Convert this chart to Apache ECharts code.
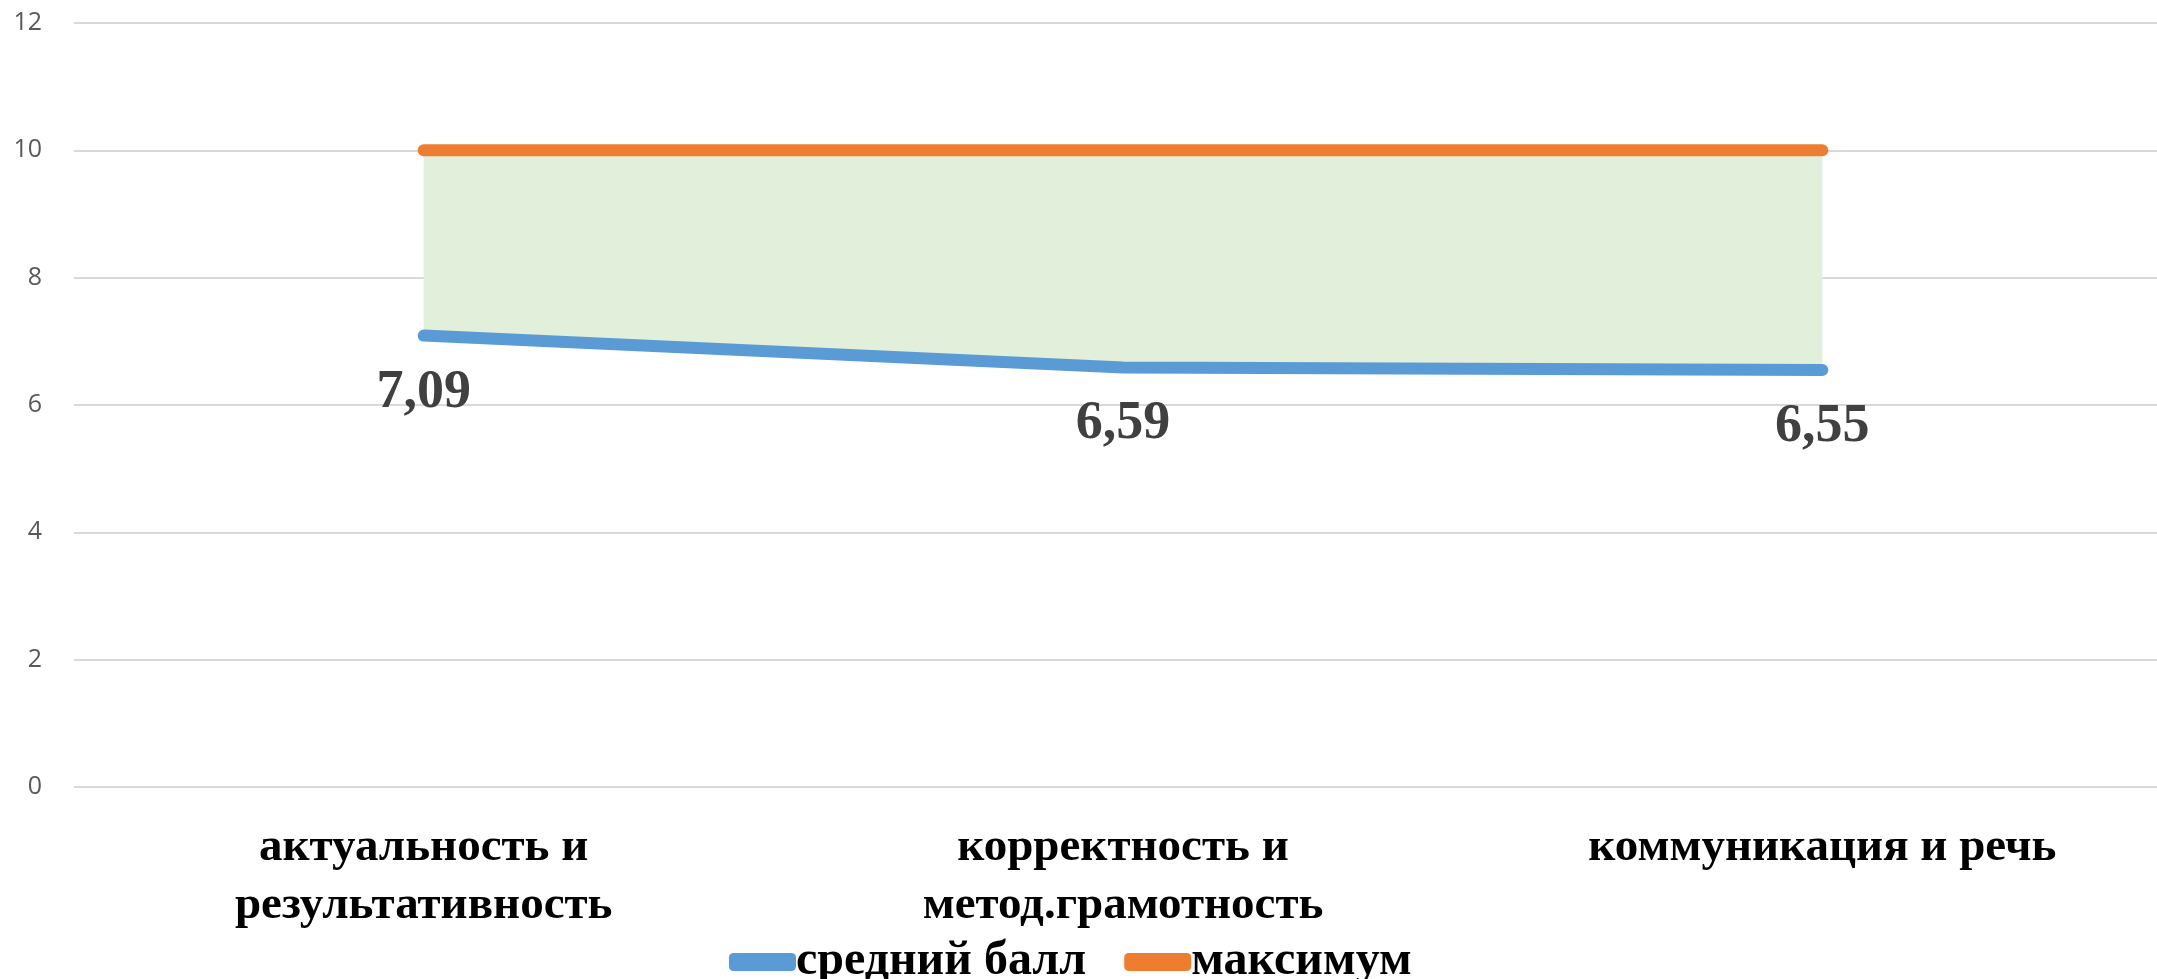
<!DOCTYPE html>
<html>
<head>
<meta charset="utf-8">
<title></title>
<script src="https://cdn.jsdelivr.net/npm/echarts@6/dist/echarts.min.js"></script>
<style>
  html, body { margin: 0; padding: 0; background: #fff; }
  #main { width: 2157px; height: 979px; }
</style>
</head>
<body>
<div id="main"></div>
<script type="text/javascript">
// категории и значения
var categories = ['актуальность и\nрезультативность', 'корректность и\nметод.грамотность', 'коммуникация и речь'];
var avgScores = [7.09, 6.59, 6.55];
var maxScores = [10, 10, 10];
var yTicks = { min: 0, max: 12, step: 2 };

// полоса между средним и максимумом (для заливки)
var bandValues = [];
for (var i = 0; i < maxScores.length; i++) {
  bandValues.push(+(maxScores[i] - avgScores[i]).toFixed(2));
}

var serif = "'Liberation Serif', 'DejaVu Serif', serif";

var myChart = echarts.init(document.getElementById('main'));
var option = {
  animation: false,
  backgroundColor: '#ffffff',
  grid: { left: 74, width: 2098, top: 23, bottom: 192, containLabel: false, outerBoundsMode: 'none' },
  legend: {
    data: ['средний балл', 'максимум'],
    left: 724,
    top: 933,
    icon: 'roundRect',
    itemWidth: 67,
    itemHeight: 18,
    itemGap: 38,
    textStyle: { fontFamily: serif, fontWeight: 'bold', fontSize: 48, color: '#000', padding: [0, 0, 0, -5] }
  },
  xAxis: {
    type: 'category',
    data: categories,
    axisLine: { show: false },
    axisTick: { show: false },
    axisLabel: {
      margin: 32,
      verticalAlign: 'top',
      fontFamily: serif,
      fontWeight: 'bold',
      fontSize: 47,
      lineHeight: 58,
      color: '#000'
    }
  },
  yAxis: {
    type: 'value',
    min: yTicks.min,
    max: yTicks.max,
    interval: yTicks.step,
    axisLine: { show: false },
    axisTick: { show: false },
    axisLabel: { margin: 32, fontFamily: "'Open Sans', sans-serif", fontSize: 25, color: '#595959' },
    splitLine: { lineStyle: { color: '#d9d9d9', width: 2 } }
  },
  series: [
    {
      name: 'base',
      type: 'line',
      stack: 'band',
      data: avgScores,
      symbol: 'none',
      lineStyle: { opacity: 0 },
      silent: true,
      z: 1
    },
    {
      name: 'band',
      type: 'line',
      stack: 'band',
      data: bandValues,
      symbol: 'none',
      lineStyle: { opacity: 0 },
      areaStyle: { color: '#e2efda', opacity: 1 },
      silent: true,
      z: 1
    },
    {
      name: 'средний балл',
      type: 'line',
      data: avgScores,
      symbol: 'circle',
      showSymbol: true,
      symbolSize: 4,
      itemStyle: { color: '#5b9bd5' },
      color: '#5b9bd5',
      lineStyle: { color: '#5b9bd5', width: 12, cap: 'round', join: 'round' },
      label: {
        show: true,
        position: 'bottom',
        distance: 28,
        fontFamily: serif,
        fontWeight: 'bold',
        fontSize: 54,
        color: '#404040',
        formatter: function (p) { return String(p.value).replace('.', ','); }
      },
      z: 3
    },
    {
      name: 'максимум',
      type: 'line',
      data: maxScores,
      symbol: 'none',
      color: '#ed7d31',
      itemStyle: { color: '#ed7d31' },
      lineStyle: { color: '#ed7d31', width: 12, cap: 'round', join: 'round' },
      z: 3
    }
  ]
};
myChart.setOption(option);
</script>
</body>
</html>
